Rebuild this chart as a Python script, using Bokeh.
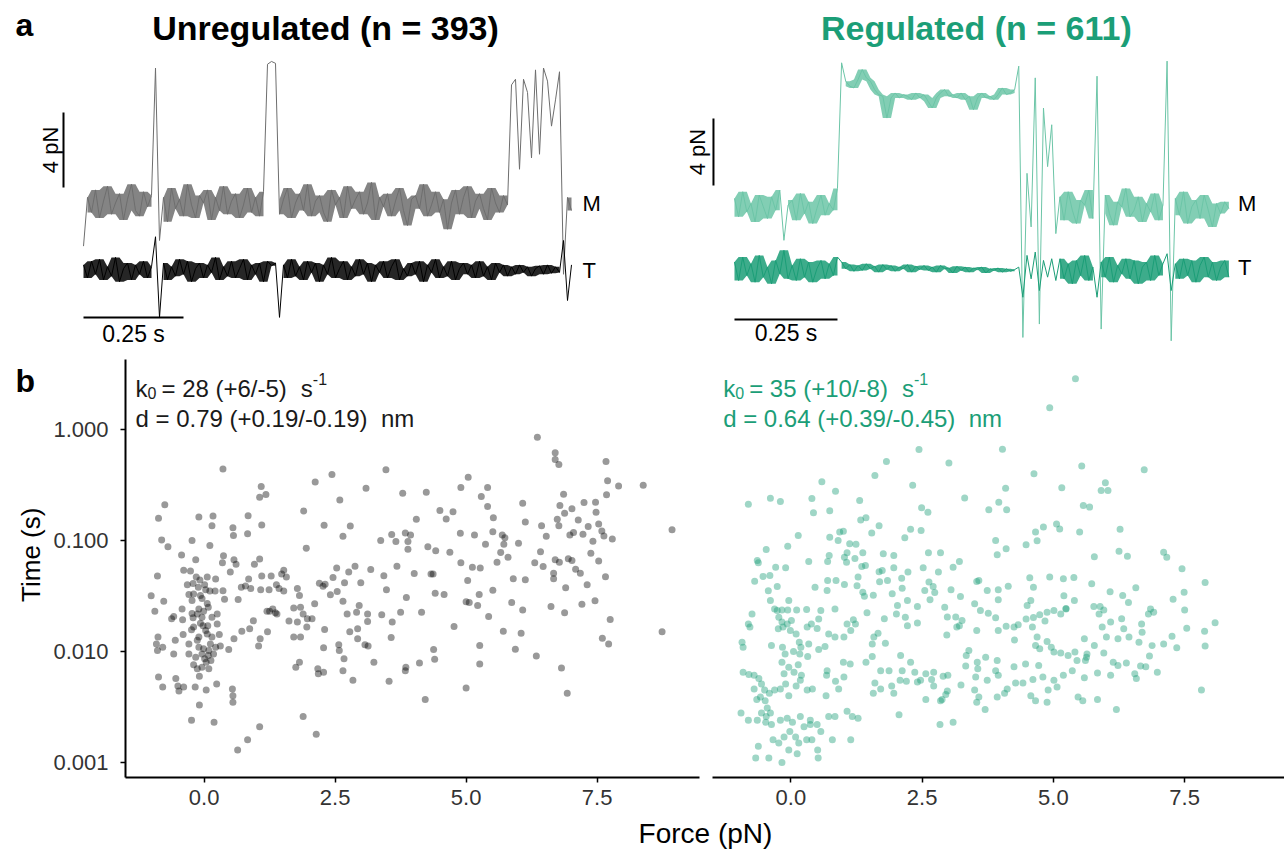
import numpy as np
from bokeh.plotting import figure
from bokeh.layouts import column, row
from bokeh.models import Label, FixedTicker, PrintfTickFormatter, Range1d
from bokeh.embed import file_html
from bokeh.resources import INLINE

FONT = "Liberation Sans"
GREY_M = "#6e6e6e"
BLACK = "#000000"
GREEN = "#1b9e77"
GREEN_M = "#6cc5a7"

# ---------------- panel a : force traces (pN), sampled every SAMPLE_DT seconds ----------------
SAMPLE_DT = 0.01
SCALE_FORCE = 4      # pN scale bar
SCALE_TIME = 0.25    # s scale bar

unreg_M = [1.3, 3.9, 3.1, 4.3, 2.8, 3.7, 4.5, 3.0, 3.6, 4.1, 2.7, 3.8, 4.6, 3.2, 2.9, 4.2, 3.4, 4.0,
           10.8, 1.6,
           3.9, 2.6, 4.4, 3.3, 3.8, 2.9, 4.6, 3.5, 2.8, 4.0, 3.6, 4.3, 2.7, 3.9, 3.2, 4.5, 3.0, 3.7, 4.1, 2.8,
           3.5, 4.4, 3.1, 3.9, 2.9, 4.2,
           11.0, 11.15, 11.05,
           3.0, 3.8, 4.4, 2.8, 3.6, 4.1, 3.2, 4.6, 2.9, 3.7, 4.0, 3.1, 2.6, 4.3, 3.5, 3.9, 2.8, 4.5, 3.3, 3.8,
           4.2, 3.0, 3.6, 4.7, 2.7, 3.9, 3.4, 4.1, 2.9, 3.7, 4.4, 3.2, 2.4, 3.8, 4.0, 3.3, 4.6, 2.9, 3.5, 4.2,
           3.1, 3.8, 2.2, 3.6, 4.3, 3.0, 3.9, 4.5, 2.8, 3.7, 4.1, 3.3, 2.7, 4.4, 3.6, 3.1, 4.0, 3.5,
           9.9, 10.2, 5.4, 10.2, 9.5, 6.0, 10.7, 6.2, 10.8, 10.1, 7.7, 9.1, 10.6,
           -0.2, 3.9, 3.2]
unreg_T = [0.3, -0.4, 0.5, -0.2, 0.6, -0.5, 0.2, -0.3, 0.7, -0.6, 0.1, 0.4, -0.5, 0.3, -0.2, 0.5, -0.4, 0.2,
           1.8, -2.5,
           0.4, -0.5, 0.2, -0.3, 0.6, -0.2, 0.5, -0.6, 0.1, 0.4, -0.4, 0.3, -0.1, 0.7, -0.5, 0.2, -0.3, 0.5,
           -0.4, 0.1, 0.6, -0.5, 0.3, -0.2, 0.4, -0.6,
           0.5, 0.25, 0.4,
           -2.5,
           0.3, -0.4, 0.6, -0.3, 0.2, -0.5, 0.5, -0.1, 0.4, -0.6, 0.3, -0.2, 0.7, -0.4, 0.1, 0.5, -0.5, 0.2,
           -0.3, 0.6, -0.2, 0.4, -0.6, 0.3, -0.1, 0.5, -0.4, 0.2, 0.6, -0.5, 0.1, -0.3, 0.4, -0.2, 0.5, -0.6,
           0.3, -0.1, 0.6, -0.4, 0.2, -0.3, 0.5, -0.5, 0.1, 0.4, -0.2, 0.3, -0.4, 0.5, -0.3, 0.2, -0.5, 0.4,
           -0.1, 0.3, -0.3,
           0.2, -0.2, 0.3, -0.1, 0.2, -0.3, 0.1, 0.25, -0.2, 0.3, -0.15, 0.2, -0.1,
           1.6, -1.6, 0.3]
reg_M = [4.3, 3.2, 4.7, 3.5, 4.0, 2.9, 4.5, 3.8, 3.1, 4.4, 3.6, 4.8, 1.8, 3.9, 4.2, 3.0, 4.6, 3.4, 4.1, 2.8,
         3.7, 4.5, 3.3, 4.0, 3.6, 4.9,
         12.4, 11.3, 11.0, 10.9, 11.4, 12.0, 11.5, 11.3, 10.8, 10.5, 10.4, 9.1, 10.3, 10.6, 10.3, 10.5, 10.4,
         10.2, 10.6, 10.3, 10.5, 10.1, 9.7, 10.3, 10.6, 10.8, 10.4, 10.5, 10.3, 10.6, 10.2, 10.4, 9.6, 10.3,
         10.6, 10.3, 10.4, 10.2, 10.5, 10.9, 10.5, 10.6, 10.8,
         12.2, -4.0, 5.8, 2.6, 11.5, -3.2, 9.7, 6.2, 8.7, 2.2,
         4.4, 3.0, 4.7, 3.6, 2.8, 4.2, 3.9, 4.8, 3.1,
         11.6, -3.5,
         4.5, 3.4, 2.7, 4.1, 3.8, 4.9, 3.2, 3.6, 4.4, 2.9, 4.0, 3.5, 4.6, 3.0, 3.9,
         12.5, -4.2,
         4.3, 3.3, 4.7, 2.8, 3.8, 4.2, 3.1, 4.5, 3.6, 2.6, 4.0, 3.4, 4.1, 3.7]
reg_T = [0.5, -0.6, 0.8, -0.3, 0.4, -0.7, 0.9, -0.4, 0.2, -0.8, 0.6, -0.2, 1.2, -0.5, 0.3, -0.6, 0.7, -0.4,
         0.5, -0.7, 0.1, 0.6, -0.5, 0.4, -0.3, 0.8,
         0.5, 0.1, 0.35, -0.05, 0.3, 0.0, 0.4, 0.1, 0.25, -0.1, 0.35, 0.05, 0.3, -0.05, 0.2, 0.1, 0.35, -0.1,
         0.25, 0.05, 0.3, 0.0, 0.2, -0.1, 0.3, 0.1, 0.15, -0.15, 0.25, 0.0, 0.2, -0.1, 0.15, 0.05, 0.2, -0.15,
         0.1, 0.0, 0.15, -0.1, 0.1, -0.05, 0.05,
         0.2, -1.6, 0.9, -0.5, 1.1, -1.2, 0.6, -0.4, 0.7, -0.6,
         0.7, -0.5, 0.4, -0.8, 0.6, -0.3, 0.9, -0.6, 0.2,
         -1.6,
         0.5, -0.4, 0.8, -0.7, 0.3, -0.2, 0.7, -0.5, 0.6, -0.8, 0.2, 0.5, -0.6, 0.9, -0.3, 0.4,
         1.0,
         -1.2, 0.4, -0.5, 0.7, -0.3, 0.6, -0.7, 0.3, 0.8, -0.4, 0.5, -0.6, 0.2, 0.6, -0.4]

# time spans (s) where each trace is plain noise (rendered densely)
unreg_M_noise_start = [0.01, 0.20, 0.49, 1.21]
unreg_M_noise_end = [0.17, 0.45, 1.06, 1.22]
unreg_T_noise_start = [0.0, 0.20, 0.50]
unreg_T_noise_end = [0.17, 0.48, 1.19]
reg_M_noise_start = [0.0, 0.13, 0.27, 0.79, 0.90, 1.07]
reg_M_noise_end = [0.11, 0.25, 0.68, 0.87, 1.04, 1.20]
reg_T_noise_start = [0.0, 0.26, 0.79, 0.89, 1.07]
reg_T_noise_end = [0.25, 0.68, 0.87, 1.04, 1.20]

# ---------------- panel b : force (pN) vs lifetime (s) ----------------
unreg_force_a = [0.36, 1.09, 1.06, 1.18, -0.75, -0.87, -0.10, 0.17, 0.15, 0.55,
                 0.56, 0.84, 0.83, 1.10, 1.90, -0.81, -0.69, -0.23, 0.11, 1.95,
                 -0.43, 0.37, -0.16, 0.35, 0.57, 0.61, 1.06, 0.96, -0.39, -0.26,
                 0.50, -0.89, -0.15, -0.08, -0.21, -0.32, 0.06, 0.22, 0.71, 0.79,
                 0.85, 0.89, 1.08, 1.10, 1.28, 1.24, 1.38, 1.52, 1.48, 1.57,
                 1.43, 1.52, 1.78, 1.82, 1.71, 1.84, 1.89, 1.97, -1.01, -0.77,
                 -0.42, -0.23, -0.29, -0.07, 0.03, 0.11, 0.21, 0.36, -0.11, 0.01,
                 -0.10, -0.13, -0.01, 0.08, 0.65, 0.39, 1.20, 1.25, 1.36, 1.31,
                 1.39, -0.94, -0.58, -0.62, -0.41, -0.21, -0.02, 0.07, 0.25, 0.94,
                 0.87, 0.72, 0.57, 1.07, 1.04, 1.21, 1.62, 1.78, 1.71, 1.84,
                 1.96, -0.88, -0.91, -0.89, -0.79, -0.58, -0.55, -0.40, -0.24, -0.10,
                 0.06, 0.15, 0.29, 0.31, 0.47, 0.22, -0.29, -0.16, -0.04, 0.01,
                 0.08, 0.13, -0.20, -0.13, -0.04, 0.09, 1.75, 1.82, -0.87, -0.79,
                 -0.54, -0.50, -0.48, -0.39, -0.17, -0.09, 0.04, 0.24, 0.54, 0.55,
                 0.55, -0.09, -0.24, 0.19, 1.06, 0.83, 0.64, 1.89,
                 -0.20, -0.04, 0.06, -0.23, -0.07, 0.03, 0.12, -0.10, -0.01, 0.09,
                 0.18, 0.04, -0.29, -0.20, -0.13, -0.04, 0.15, 0.25]
unreg_time_a = [0.44, 0.306, 0.245, 0.26, 0.21, 0.159, 0.163, 0.166, 0.136, 0.130,
                0.111, 0.167, 0.115, 0.138, 0.184, 0.101, 0.088, 0.100, 0.090, 0.085,
                0.074, 0.073, 0.067, 0.063, 0.067, 0.061, 0.068, 0.061, 0.054, 0.053,
                0.052, 0.048, 0.047, 0.044, 0.041, 0.040, 0.047, 0.045, 0.038, 0.039,
                0.045, 0.037, 0.036, 0.048, 0.048, 0.036, 0.040, 0.054, 0.050, 0.047,
                0.037, 0.035, 0.037, 0.032, 0.0247, 0.0251, 0.0218, 0.0197, 0.0318, 0.0284,
                0.0242, 0.0288, 0.0327, 0.032, 0.036, 0.035, 0.035, 0.0352, 0.038, 0.040,
                0.0242, 0.0218, 0.0231, 0.0251, 0.0294, 0.0296, 0.0231, 0.0231, 0.0223, 0.0242,
                0.0218, 0.0231, 0.0207, 0.0197, 0.0193, 0.0201, 0.0171, 0.0171, 0.0177, 0.0189,
                0.016, 0.0152, 0.013, 0.013, 0.0112, 0.0151, 0.0188, 0.0184, 0.0135, 0.0135,
                0.0166, 0.0135, 0.0117, 0.0102, 0.0109, 0.0095, 0.0126, 0.0142, 0.0157, 0.0135,
                0.0144, 0.0135, 0.0142, 0.0112, 0.0104, 0.0109, 0.0095, 0.0089, 0.0095, 0.0086,
                0.0092, 0.0083, 0.0076, 0.0070, 0.0072, 0.0070, 0.0072, 0.0080, 0.0059, 0.0048,
                0.0057, 0.0049, 0.0044, 0.0048, 0.0048, 0.0060, 0.0045, 0.0051, 0.0046, 0.0040,
                0.0035, 0.0033, 0.0024, 0.0023, 0.0021, 0.0016, 0.0013, 0.0026,
                0.033, 0.030, 0.027, 0.022, 0.018, 0.0155, 0.0117, 0.0109, 0.0106, 0.0102,
                0.0095, 0.0080, 0.0117, 0.0166, 0.0126, 0.0204, 0.0204, 0.0218]
unreg_force_b = [3.47, 2.44, 2.12, 5.04, 3.09, 3.79, 4.24, 4.90, 5.41, 2.59,
                 5.29, 5.41, 4.50, 4.62, 4.75, 4.05, 5.52, 2.29, 2.79, 2.65,
                 3.37, 3.58, 3.66, 3.84, 3.94, 3.89, 3.89, 4.27, 4.42, 4.69,
                 4.89, 5.16, 5.51, 5.37, 5.59, 4.90, 5.12, 5.27, 2.53, 2.76,
                 2.88, 3.18, 3.68, 3.43, 4.01, 4.37, 4.33, 2.20, 2.27, 2.31,
                 2.46, 2.54, 2.41, 2.68, 2.99, 3.48, 3.86, 4.41, 4.58, 5.03,
                 5.25, 5.51, 2.11, 2.06, 2.30, 2.28, 2.65, 2.73, 2.91, 2.96,
                 3.12, 3.12, 3.39, 3.59, 3.75, 4.15, 4.77, 5.00, 5.06, 5.22,
                 5.43, 2.78, 2.93, 2.93, 3.07, 3.13, 3.57, 2.57, 2.58, 2.67,
                 3.24, 3.85, 3.84, 4.11, 4.38, 4.40, 5.26, 5.26, 2.17, 2.18,
                 2.28, 2.65, 2.84, 3.53, 5.00, 4.22, 2.14]
unreg_time_b = [0.433, 0.393, 0.336, 0.372, 0.296, 0.267, 0.272, 0.300, 0.300, 0.232,
                0.249, 0.202, 0.186, 0.156, 0.182, 0.155, 0.160, 0.137, 0.135, 0.109,
                0.100, 0.113, 0.098, 0.117, 0.112, 0.098, 0.0836, 0.0877, 0.0807, 0.0785,
                0.116, 0.112, 0.120, 0.0927, 0.0638, 0.063, 0.0575, 0.0564, 0.0564, 0.0519,
                0.0587, 0.0548, 0.0587, 0.0481, 0.0505, 0.0498, 0.0498, 0.0413, 0.0388, 0.0404,
                0.0464, 0.0347, 0.0324, 0.0416, 0.0416, 0.036, 0.0306, 0.0335, 0.0326, 0.0436,
                0.0326, 0.0357, 0.0269, 0.0197, 0.0158, 0.0108, 0.0284, 0.0218, 0.0226, 0.0260,
                0.0218, 0.0186, 0.0214, 0.0184, 0.0226, 0.0226, 0.0168, 0.028, 0.0276, 0.0260,
                0.0207, 0.0151, 0.016, 0.013, 0.0115, 0.0112, 0.0134, 0.0115, 0.0102, 0.0086,
                0.0080, 0.0072, 0.0067, 0.0079, 0.0104, 0.0085, 0.0113, 0.0077, 0.0070, 0.0063,
                0.0065, 0.0067, 0.0055, 0.0054, 0.0047, 0.0037, 0.0018]
unreg_force_c = [6.36, 6.70, 6.70, 6.77, 7.67, 7.70, 7.91, 8.38, 7.68, 6.86,
                 6.08, 6.79, 6.88, 7.02, 7.25, 7.47, 7.48, 6.74, 6.77, 7.14,
                 7.33, 7.53, 6.13, 6.44, 6.53, 6.98, 7.05, 7.23, 7.42, 7.59,
                 7.63, 7.79, 8.93, 5.69, 5.74, 5.72, 6.00, 5.66, 5.80, 6.42,
                 6.31, 6.47, 6.70, 6.78, 6.95, 7.02, 7.09, 7.18, 7.38, 7.53,
                 6.67, 6.67, 5.90, 6.13, 6.90, 7.31, 7.66, 5.87, 6.08, 6.62,
                 6.88, 7.21, 7.46, 7.75, 5.71, 6.05, 5.94, 6.34, 7.60, 7.72,
                 8.74, 6.82, 6.93]
unreg_time_c = [0.853, 0.616, 0.537, 0.484, 0.515, 0.345, 0.309, 0.315, 0.258, 0.261,
                0.216, 0.207, 0.176, 0.193, 0.220, 0.221, 0.180, 0.155, 0.136, 0.153,
                0.134, 0.141, 0.147, 0.136, 0.109, 0.112, 0.118, 0.114, 0.0986, 0.122,
                0.110, 0.103, 0.125, 0.112, 0.106, 0.0927, 0.0946, 0.078, 0.0708, 0.079,
                0.063, 0.0583, 0.067, 0.0638, 0.0684, 0.066, 0.0552, 0.0508, 0.0769, 0.0652,
                0.0508, 0.0452, 0.0452, 0.0442, 0.0375, 0.040, 0.0471, 0.0276, 0.0237, 0.0254,
                0.0224, 0.0267, 0.0286, 0.0194, 0.0152, 0.0146, 0.0105, 0.0091, 0.0132, 0.0117,
                0.0151, 0.0071, 0.0042]

reg_force_a = [1.82, 1.60, 0.59, 0.85, -0.81, -0.39, -0.20, 0.40, 0.43, 0.74,
               1.31, 1.33, 1.43, 1.54, 1.68, 0.14, -0.06, -0.47, -0.64, -0.62,
               -0.29, -0.10, 0.34, 0.70, 0.73, 0.74, 0.93, 1.00, 0.90, 1.12,
               1.24, 1.07, 1.02, 1.06, 1.22, 1.37, 1.42, 1.35, 1.76, 1.68,
               1.74, -0.40, -0.53, -0.69, -0.43, -0.26, -0.39, -0.04, 0.46, 0.69,
               0.70, 0.86, 1.02, 1.28, 1.26, 1.37, 1.40, 1.57, 1.69, 1.84,
               -0.74, -0.81, -0.78, -0.93, -0.91, -0.37, -0.31, -0.26, -0.17, -0.06,
               0.11, 0.30, -0.23, -0.17, -0.07, 0.01, -0.24, -0.15, -0.01, 0.10,
               0.16, 0.19, 0.31, 0.39, 0.57, 0.53, 0.50, 0.53, 0.65, 0.72,
               0.84, 1.01, 1.07, 1.19, 1.23, 1.14, 1.45, 1.55, 1.58, 1.66,
               1.80, 1.78, 0.84, -0.16, -0.11, 0.05, 0.17, 0.32, 0.34, 1.00,
               1.13, 1.43, 1.55, -0.17, -0.04, 0.14, -0.13, 0.06, 0.20, 0.68,
               -0.91, -0.80, -0.70, -0.61, -0.56, -0.70, -0.50, -0.41, -0.31, -0.20,
               -0.10, 0.10, -0.04, 0.18, 0.31, 0.41, -0.58, -0.65, -0.49, -0.45,
               -0.56, -0.47, -0.39, -0.95, -0.81, -0.64, -0.48, -0.37, -0.20, -0.07,
               0.03, 0.18, 0.37, 0.25, 0.37, 0.57, 0.50, 0.72, 0.84, 1.07,
               1.28, -0.34, -0.23, -0.13, -0.02, 0.09, -0.04, 0.15, 0.30, 0.40,
               0.51, 0.79, 1.14, -0.62, -0.67, -0.42, -0.17, 0.12, 0.52, 0.67,
               0.91, 1.17, 1.57, 1.71, 1.60, 1.71, 1.87, 0.69, 0.85, 1.01]
reg_time_a = [0.515, 0.385, 0.338, 0.278, 0.212, 0.240, 0.224, 0.239, 0.178, 0.185,
              0.229, 0.153, 0.160, 0.117, 0.136, 0.111, 0.0889, 0.083, 0.066, 0.063,
              0.0575, 0.0567, 0.0647, 0.0647, 0.0733, 0.107, 0.119, 0.121, 0.100, 0.0933,
              0.0927, 0.0774, 0.0708, 0.0638, 0.0689, 0.0774, 0.0596, 0.0583, 0.0758, 0.0522,
              0.0537, 0.0484, 0.0474, 0.0430, 0.0352, 0.0385, 0.0288, 0.0288, 0.038, 0.0355,
              0.0436, 0.0436, 0.0402, 0.0468, 0.0391, 0.0342, 0.0315, 0.0322, 0.0424, 0.0436,
              0.0218, 0.0177, 0.0166, 0.0121, 0.0109, 0.0113, 0.0242, 0.0234, 0.0237, 0.0237,
              0.0237, 0.0239, 0.0204, 0.0184, 0.0177, 0.019, 0.016, 0.0166, 0.0155, 0.0144,
              0.0121, 0.0109, 0.0166, 0.0177, 0.0234, 0.0196, 0.0161, 0.0104, 0.0111, 0.0144,
              0.0135, 0.0135, 0.0177, 0.0193, 0.0177, 0.0155, 0.0224, 0.0117, 0.0135, 0.0146,
              0.0119, 0.0197, 0.0242, 0.0109, 0.0095, 0.0100, 0.0095, 0.009, 0.0117, 0.0080,
              0.0077, 0.0080, 0.009, 0.0080, 0.0072, 0.0076, 0.0063, 0.0065, 0.0061, 0.0061,
              0.0065, 0.0062, 0.0061, 0.0057, 0.0051, 0.0046, 0.0045, 0.0042, 0.0045, 0.0046,
              0.0051, 0.0049, 0.0040, 0.0055, 0.0045, 0.0046, 0.0039, 0.0037, 0.0036, 0.0031,
              0.0028, 0.0026, 0.0028, 0.0028, 0.0024, 0.0024, 0.0023, 0.0022, 0.0024, 0.0025,
              0.0023, 0.0026, 0.0024, 0.0021, 0.0022, 0.0019, 0.0022, 0.0026, 0.0026, 0.0029,
              0.0025, 0.0016, 0.0015, 0.0017, 0.0019, 0.0017, 0.0013, 0.0015, 0.0016, 0.0016,
              0.0013, 0.0016, 0.0016, 0.0014, 0.0011, 0.0011, 0.0010, 0.0012, 0.0011, 0.0040,
              0.0046, 0.0026, 0.0042, 0.0046, 0.0052, 0.0067, 0.0067, 0.0067, 0.0054, 0.0059]
reg_force_b = [5.42, 4.93, 2.44, 4.03, 3.01, 4.63, 2.32, 4.09, 5.16, 3.31,
               3.96, 3.77, 4.11, 2.49, 2.61, 2.28, 2.48, 2.17, 3.90, 4.81,
               4.66, 4.69, 4.48, 5.06, 5.12, 2.62, 2.85, 3.93, 4.10, 3.21,
               3.09, 1.96, 2.52, 2.81, 2.23, 2.11, 2.12, 1.96, 2.63, 2.71,
               2.55, 2.65, 2.74, 3.05, 3.23, 3.54, 3.58, 3.74, 3.95, 4.14,
               3.95, 3.50, 3.61, 4.55, 4.62, 4.57, 4.50, 4.93, 5.19, 5.39,
               5.20, 5.24, 5.40, 1.93, 2.03, 2.22, 2.41, 2.18, 2.01, 2.22,
               2.41, 2.93, 2.98, 3.14, 3.21, 3.16, 3.26, 2.97, 3.54, 3.76,
               3.90, 3.95, 4.10, 4.25, 4.33, 4.48, 4.62, 4.74, 4.88, 4.84,
               5.01, 5.14, 5.24, 4.26, 4.60, 4.69, 4.66, 4.74, 4.88, 4.96,
               5.01, 5.14, 5.28, 5.41, 5.45, 2.09, 2.28, 2.12, 2.36, 2.57,
               2.72, 2.90, 2.72, 2.99, 2.08, 2.20, 2.41, 2.47, 2.68, 1.96,
               1.92, 2.06, 2.57, 2.85, 2.88, 2.95, 2.98, 3.24, 3.33, 3.55,
               3.56, 3.52, 3.71, 3.74, 3.50, 3.58, 3.54, 3.70, 3.34, 3.39,
               3.93, 3.90, 3.95, 4.25, 4.47, 4.12, 4.28, 4.42, 4.61, 4.72,
               4.80, 4.90, 5.01, 5.07, 5.19, 5.36, 3.93, 4.07, 4.57, 4.66,
               4.88, 5.47, 2.84, 3.09]
reg_time_b = [2.86, 1.57, 0.66, 0.665, 0.50, 0.399, 0.315, 0.296, 0.298, 0.242,
              0.221, 0.189, 0.189, 0.197, 0.180, 0.126, 0.123, 0.106, 0.100, 0.132,
              0.119, 0.0993, 0.0914, 0.141, 0.127, 0.0774, 0.0774, 0.0743, 0.0841, 0.0647,
              0.0575, 0.0733, 0.0567, 0.0519, 0.0519, 0.0458, 0.0372, 0.0567, 0.0422, 0.0385,
              0.0355, 0.0292, 0.034, 0.036, 0.0313, 0.0428, 0.0436, 0.0355, 0.036, 0.0388,
              0.0292, 0.0269, 0.0234, 0.0461, 0.038, 0.0288, 0.026, 0.0468, 0.0452, 0.0464,
              0.0318, 0.0242, 0.0288, 0.0331, 0.026, 0.0288, 0.0254, 0.0204, 0.0218, 0.0171,
              0.0181, 0.0251, 0.0205, 0.0205, 0.0171, 0.0166, 0.019, 0.0141, 0.0155, 0.0221,
              0.0201, 0.0155, 0.0169, 0.0166, 0.0174, 0.0196, 0.0202, 0.0214, 0.0226, 0.0188,
              0.0234, 0.0218, 0.0244, 0.0127, 0.0166, 0.0135, 0.0113, 0.0106, 0.0123, 0.0109,
              0.0099, 0.0097, 0.0092, 0.0099, 0.0083, 0.0092, 0.0080, 0.0067, 0.0065, 0.0063,
              0.0065, 0.0060, 0.0049, 0.0061, 0.0055, 0.0054, 0.0053, 0.0055, 0.0056, 0.0042,
              0.0049, 0.0027, 0.0037, 0.0036, 0.0037, 0.0041, 0.0044, 0.0050, 0.0074, 0.0080,
              0.0070, 0.0059, 0.0089, 0.0055, 0.0045, 0.0039, 0.0035, 0.0030, 0.0092, 0.0102,
              0.0083, 0.0067, 0.0061, 0.0073, 0.0077, 0.0046, 0.0052, 0.0052, 0.0056, 0.0075,
              0.0059, 0.0045, 0.0055, 0.0048, 0.0061, 0.0067, 0.0039, 0.0042, 0.0040, 0.0036,
              0.0035, 0.0039, 0.0022, 0.0023]
reg_force_c = [5.54, 6.73, 5.99, 5.91, 6.04, 5.57, 5.69, 5.50, 6.27, 6.25,
               6.41, 5.78, 7.10, 7.16, 7.45, 7.89, 5.73, 6.08, 6.32, 6.57,
               6.43, 7.28, 7.49, 5.77, 5.89, 5.96, 5.87, 6.85, 6.91, 6.81,
               6.30, 7.50, 6.09, 5.93, 6.34, 6.68, 7.54, 8.08, 5.59, 6.01,
               6.23, 6.44, 6.63, 6.69, 6.88, 7.10, 7.26, 7.35, 7.88, 7.89,
               5.64, 5.78, 5.96, 5.61, 5.63, 6.14, 6.23, 6.39, 6.66, 6.76,
               6.55, 6.58, 6.83, 6.98, 5.84, 6.09, 5.59, 5.56, 5.84, 6.20,
               7.82]
reg_time_c = [0.468, 0.433, 0.331, 0.282, 0.282, 0.207, 0.200, 0.119, 0.126, 0.080,
              0.0722, 0.0713, 0.0785, 0.0708, 0.0556, 0.0418, 0.0407, 0.0345, 0.032, 0.0375,
              0.0276, 0.0296, 0.0342, 0.0254, 0.0254, 0.0237, 0.0218, 0.0242, 0.0226, 0.0218,
              0.0197, 0.0237, 0.0184, 0.0166, 0.016, 0.0177, 0.0162, 0.0182, 0.013, 0.0135,
              0.013, 0.0135, 0.0121, 0.0149, 0.0113, 0.0117, 0.0137, 0.0108, 0.0152, 0.0112,
              0.0095, 0.0113, 0.0097, 0.0083, 0.0089, 0.0080, 0.0075, 0.0079, 0.0074, 0.0073,
              0.0063, 0.0057, 0.0091, 0.0065, 0.0064, 0.0061, 0.0058, 0.0036, 0.0037, 0.0030,
              0.0045]

panel_titles = ["Unregulated (n = 393)", "Regulated (n = 611)"]
k0_values = ["28 (+6/-5)", "35 (+10/-8)"]
d_values = ["0.79 (+0.19/-0.19)", "0.64 (+0.39/-0.45)"]
x_ticks = [0.0, 2.5, 5.0, 7.5]
y_ticks = [0.001, 0.01, 0.1, 1.0]

CHAR_W = {" ": 0.278, "=": 0.584, "(": 0.333, ")": 0.333, "+": 0.584, "/": 0.278, "-": 0.333, ".": 0.278}


def pairs(f, t):
    n = min(len(f), len(t))
    return list(f[:n]), list(t[:n])


def add_label(p, x, y, text, size, color="black", bold=False, align="left",
              baseline="middle", angle=0.0, xo=0, yo=0):
    p.add_layout(Label(x=x, y=y, text=text, text_font=FONT, text_font_size=f"{size}px",
                       text_color=color, text_font_style="bold" if bold else "normal",
                       text_align=align, text_baseline=baseline, angle=angle,
                       x_offset=xo, y_offset=yo))


def trace_fig(width, xr, yr):
    return figure(width=width, height=348, x_range=Range1d(*xr), y_range=Range1d(*yr),
                  x_axis_type=None, y_axis_type=None, toolbar_location=None,
                  output_backend="svg", min_border=0, outline_line_color=None)


def draw_trace(p, vals, starts, ends, color, alpha=0.85):
    """Draw a sampled trace; inside the noise spans the local min/max envelope
    of the samples is filled, which is how a dense recording looks."""
    t = np.arange(len(vals)) * SAMPLE_DT
    v = np.asarray(vals, dtype=float)
    for s, e in zip(starts, ends):
        idx = np.where((t >= s - 1e-9) & (t <= e + 1e-9))[0]
        if len(idx) < 2:
            continue
        ts, vs = t[idx], v[idx]
        pad = np.pad(vs, 1, mode="edge")
        lo = np.minimum(np.minimum(pad[:-2], pad[1:-1]), pad[2:])
        hi = np.maximum(np.maximum(pad[:-2], pad[1:-1]), pad[2:])
        p.varea(x=ts, y1=lo, y2=hi, fill_color=color, fill_alpha=alpha)
    p.line(t, v, line_color=color, line_width=1.0)


# ---- A1 : unregulated traces
a1 = trace_fig(648, (-0.2075, 1.4125), (-4.16, 14.4))
draw_trace(a1, unreg_M, unreg_M_noise_start, unreg_M_noise_end, GREY_M)
draw_trace(a1, unreg_T, unreg_T_noise_start, unreg_T_noise_end, BLACK)
a1.line([-0.05, -0.05], [4.43, 4.43 + SCALE_FORCE], line_color="black", line_width=2)
a1.line([0, SCALE_TIME], [-2.51, -2.51], line_color="black", line_width=2)
add_label(a1, -0.0825, 4.43 + SCALE_FORCE / 2, f"{SCALE_FORCE} pN", 22, align="center", angle=np.pi / 2)
add_label(a1, SCALE_TIME / 2, -3.36, f"{SCALE_TIME} s", 23, align="center")
add_label(a1, 1.2475, 3.57, "M", 22)
add_label(a1, 1.2475, 0.0, "T", 22)
add_label(a1, 0.605, 12.91, panel_titles[0], 34, bold=True, align="center")
add_label(a1, -0.17, 13.07, "a", 32, bold=True)

# ---- A2 : regulated traces
a2 = trace_fig(636, (-0.2087, 1.335), (-4.66, 16.12))
draw_trace(a2, reg_M, reg_M_noise_start, reg_M_noise_end, GREEN_M)
draw_trace(a2, reg_T, reg_T_noise_start, reg_T_noise_end, GREEN)
a2.line([-0.051, -0.051], [5.07, 5.07 + SCALE_FORCE], line_color="black", line_width=2)
a2.line([0, SCALE_TIME], [-2.93, -2.93], line_color="black", line_width=2)
add_label(a2, -0.0886, 5.07 + SCALE_FORCE / 2, f"{SCALE_FORCE} pN", 22, align="center", angle=np.pi / 2)
add_label(a2, SCALE_TIME / 2, -3.76, f"{SCALE_TIME} s", 23, align="center")
add_label(a2, 1.222, 4.0, "M", 22)
add_label(a2, 1.222, 0.2, "T", 22)
add_label(a2, 0.587, 14.45, panel_titles[1], 34, color=GREEN, bold=True, align="center")


def scatter_fig(frame_w, xr, left_b, right_b, show_y):
    p = figure(frame_width=frame_w, frame_height=418, x_range=Range1d(*xr),
               y_range=Range1d(7.33e-4, 4.27), y_axis_type="log",
               toolbar_location=None, output_backend="svg",
               min_border_top=11, min_border_bottom=42, min_border_left=left_b,
               min_border_right=right_b, outline_line_color=None)
    p.grid.visible = False
    ax = p.xaxis[0]
    ax.ticker = FixedTicker(ticks=x_ticks)
    ax.formatter = PrintfTickFormatter(format="%.1f")
    ax.axis_line_width = 2
    ax.major_tick_line_width = 1.5
    ax.major_tick_in = 0
    ax.major_tick_out = 5
    ax.minor_tick_line_color = None
    ax.major_label_standoff = 7
    ax.major_label_text_font = FONT
    ax.major_label_text_font_size = "22px"
    ax.major_label_text_color = "#333333"
    ay = p.yaxis[0]
    if show_y:
        ay.ticker = FixedTicker(ticks=y_ticks)
        ay.formatter = PrintfTickFormatter(format="%.3f")
        ay.axis_line_width = 2
        ay.major_tick_line_width = 1.5
        ay.major_tick_in = 0
        ay.major_tick_out = 5
        ay.minor_tick_line_color = None
        ay.major_label_standoff = 12
        ay.major_label_text_font = FONT
        ay.major_label_text_font_size = "22px"
        ay.major_label_text_color = "#333333"
    else:
        ay.visible = False
    return p


def add_fit_text(p, x0, color, k0, d):
    fs, ss = 24, 16
    add_label(p, x0, 2.34, "k", fs, color=color, baseline="alphabetic")
    add_label(p, x0, 2.34, "0", ss, color=color, baseline="alphabetic", xo=12, yo=-5)
    main = f"= {k0}"
    add_label(p, x0, 2.34, main, fs, color=color, baseline="alphabetic", xo=26)
    w = sum(CHAR_W.get(ch, 0.556) for ch in main) * fs
    sx = 26 + w + 14
    add_label(p, x0, 2.34, "s", fs, color=color, baseline="alphabetic", xo=sx)
    add_label(p, x0, 2.34, "-1", ss, color=color, baseline="alphabetic", xo=sx + 12, yo=9)
    add_label(p, x0, 1.256, f"d = {d}\u00a0\u00a0nm", fs, color=color, baseline="alphabetic")


# ---- side strip with panel letter b and the y-axis title
side = figure(width=50, height=471, x_range=Range1d(0, 50), y_range=Range1d(0, 471),
              x_axis_type=None, y_axis_type=None, toolbar_location=None,
              output_backend="svg", min_border=0, outline_line_color=None)
add_label(side, 15, 447, "b", 32, bold=True)
add_label(side, 30, 251, "Time (s)", 26, align="center", angle=np.pi / 2)

b1 = scatter_fig(574, (-1.50, 9.454), 75, 6, True)
for f, t in [(unreg_force_a, unreg_time_a), (unreg_force_b, unreg_time_b), (unreg_force_c, unreg_time_c)]:
    ff, tt = pairs(f, t)
    b1.scatter(ff, tt, size=7, fill_color="black", fill_alpha=0.4, line_color=None)
add_fit_text(b1, -1.31, "#1a1a1a", k0_values[0], d_values[0])

b2 = scatter_fig(572, (-1.493, 9.402), 7, 0, False)
for f, t in [(reg_force_a, reg_time_a), (reg_force_b, reg_time_b), (reg_force_c, reg_time_c)]:
    ff, tt = pairs(f, t)
    b2.scatter(ff, tt, size=7, fill_color=GREEN, fill_alpha=0.42, line_color=None)
add_fit_text(b2, -1.29, GREEN, k0_values[1], d_values[1])

c = figure(width=1284, height=34, x_range=Range1d(0, 1284), y_range=Range1d(0, 34),
           x_axis_type=None, y_axis_type=None, toolbar_location=None,
           output_backend="svg", min_border=0, outline_line_color=None)
add_label(c, 705, 20, "Force (pN)", 28, align="center")

layout = column(row(a1, a2), row(side, b1, b2), c)
open("out.html", "w").write(file_html(layout, INLINE))
